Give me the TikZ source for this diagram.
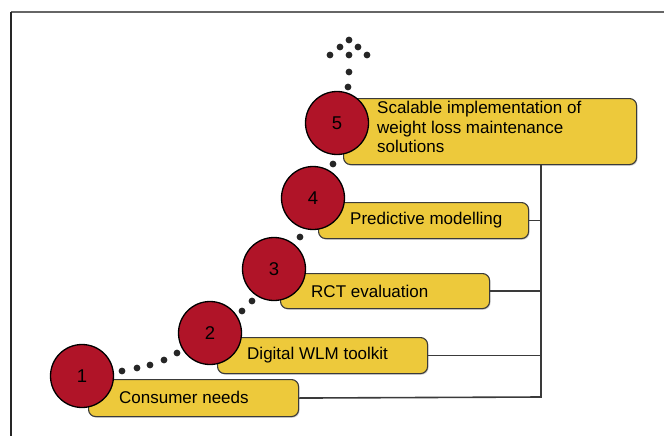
\documentclass[tikz,border=0pt]{standalone}
\usepackage{fontspec}
\setmainfont{Liberation Sans}
\usetikzlibrary{shadows}
\definecolor{stepred}{HTML}{B01428}
\definecolor{boxyellow}{HTML}{EDC93B}
\definecolor{boxedge}{HTML}{3A3A3A}
\begin{document}
\begin{tikzpicture}[x=1pt,y=-1pt,
  stepbox/.style={draw=boxedge, line width=1.1pt, fill=boxyellow, rounded corners=7pt,
    anchor=north west, inner sep=0pt,
    drop shadow={shadow xshift=1pt, shadow yshift=-1.2pt, opacity=0.35}},
  stepcirc/.style={circle, draw=black, line width=1.3pt, fill=stepred, minimum size=63pt,
    inner sep=0pt, font=\fontsize{18.5}{20}\selectfont},
  steptext/.style={anchor=west, inner sep=0pt, align=left, font=\fontsize{17}{19.5}\selectfont},
  trail/.style={fill=black!85},
  branch/.style={draw=boxedge, line width=1.6pt}]
\useasboundingbox (0,0) rectangle (664,436);
% frame
\draw[line width=1.5pt, black!60] (11,12) -- (664,12);
\draw[line width=1.5pt, black!85] (11,12) -- (11,436);
% boxes
\node[stepbox, minimum width=210pt, minimum height=37pt] (b1) at (88,379) {};
\node[stepbox, minimum width=210pt, minimum height=36pt] (b2) at (217,337) {};
\node[stepbox, minimum width=209pt, minimum height=35pt] (b3) at (280,273) {};
\node[stepbox, minimum width=210pt, minimum height=36pt] (b4) at (318,202) {};
\node[stepbox, minimum width=293pt, minimum height=66pt] (b5) at (343,98) {};
% texts
\node[steptext] (t1) at (119,397.5) {Consumer needs};
\node[steptext] (t2) at (247,355) {Digital WLM toolkit};
\node[steptext] (t3) at (311,291) {RCT evaluation};
\node[steptext] (t4) at (350,220) {Predictive modelling};
\node[steptext] (t5) at (377,127) {Scalable implementation of\\weight loss maintenance\\solutions};
% connectors
\coordinate (tb) at (541,397);
\draw[branch] (b5.south -| tb) -- (tb) -- (b1.east);
\draw[branch] (b2.east) -- (b2.east -| tb);
\draw[branch] (b3.east) -- (b3.east -| tb);
\draw[branch] (b4.east) -- (b4.east -| tb);
% dotted trail
\foreach \p in {(122,371),(137,368),(150,365),(164,360),(177,353),
  (242,311),(252,301),(300,237),(333,164),(348,87),(349,72),
  (349,40),(340,47),(358,47),(330,55),(349,55),(367,55)}
  \fill[trail] \p circle (3.4pt);
% circles
\node[stepcirc] (c1) at (82,376) {1};
\node[stepcirc] (c2) at (210,333) {2};
\node[stepcirc] (c3) at (274,269) {3};
\node[stepcirc] (c4) at (313,198) {4};
\node[stepcirc] (c5) at (337,123) {5};
\end{tikzpicture}
\end{document}
